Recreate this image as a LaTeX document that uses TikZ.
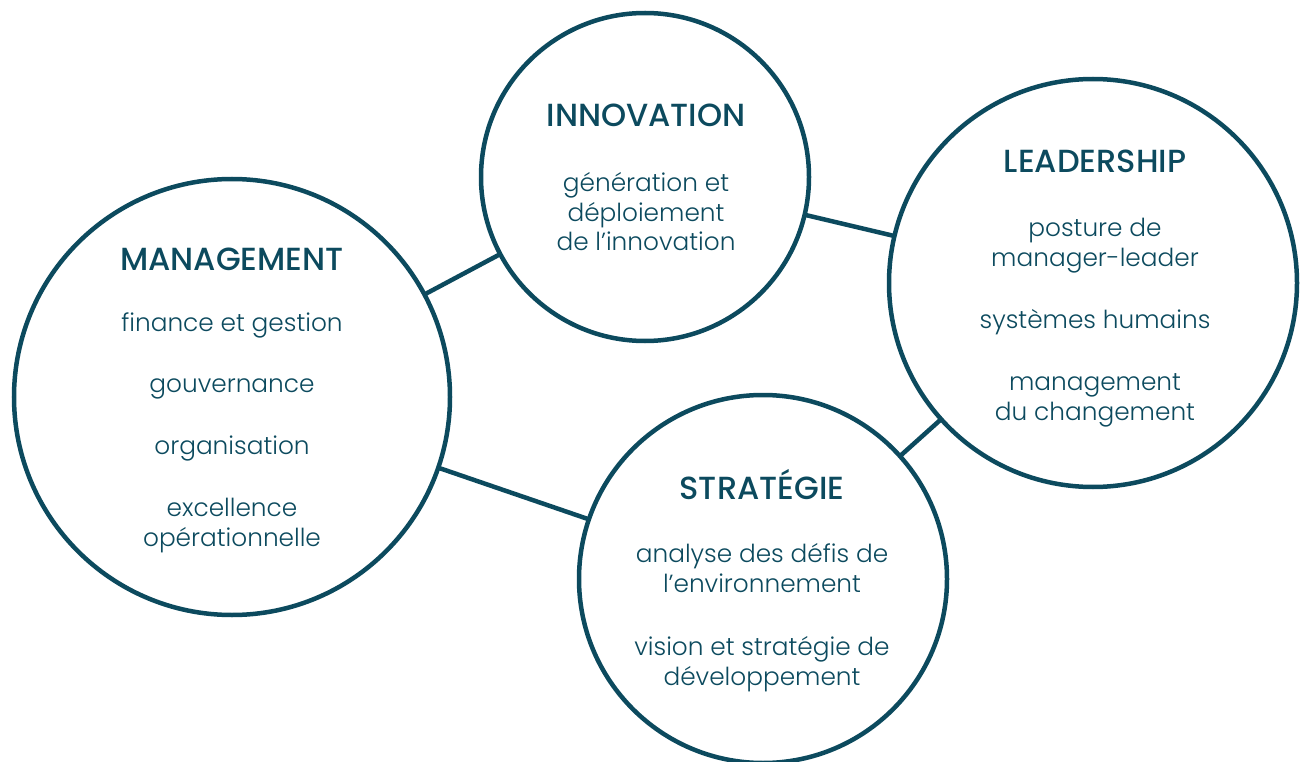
\documentclass[tikz,border=0pt]{standalone}
\usepackage{fontspec}
\setmainfont{Poppins}[UprightFont=*-Light,BoldFont=*-Medium]
\definecolor{teal}{HTML}{0C4A5E}
\begin{document}
\begin{tikzpicture}[x=1pt,y=-1pt,
  circ/.style={circle,draw=teal,line width=4.5pt,inner sep=0pt,outer sep=0pt},
  conn/.style={draw=teal,line width=4.5pt},
  title/.style={anchor=base,text=teal,inner sep=0pt,font=\bfseries\fontsize{32}{36}\selectfont},
  body/.style={anchor=base,text=teal,inner sep=0pt,font=\fontsize{24.8}{30}\selectfont}]
\useasboundingbox (0,0) rectangle (1307,762);
\node[circ,minimum size=436pt] (man) at (232,397) {};
\node[circ,minimum size=328pt] (inn) at (645,177) {};
\node[circ,minimum size=408pt] (lea) at (1093,283) {};
\node[circ,minimum size=368pt] (str) at (763,579) {};
\draw[conn] (man) -- (inn);
\draw[conn] (inn) -- (lea);
\draw[conn] (lea) -- (str);
\draw[conn] (man) -- (str);
% MANAGEMENT
\node[title] (mt) at (232,270) {MANAGEMENT};
\node[body] (m1) at (232,331) {finance et gestion};
\node[body] (m2) at (232,392) {gouvernance};
\node[body] (m3) at (232,454) {organisation};
\node[body] (m4) at (232,516) {excellence};
\node[body] (m5) at (232,546) {opérationnelle};
% INNOVATION
\node[title] (it) at (646,127) {INNOVATION};
\node[body] (i1) at (646,192) {génération et};
\node[body] (i2) at (646,222) {déploiement};
\node[body] (i3) at (646,251) {de l’innovation};
% LEADERSHIP
\node[title] (lt) at (1095,173) {LEADERSHIP};
\node[body] (l1) at (1095,237) {posture de};
\node[body] (l2) at (1095,267) {manager-leader};
\node[body] (l3) at (1095,328) {systèmes humains};
\node[body] (l4) at (1095,390) {management};
\node[body] (l5) at (1095,420) {du changement};
% STRATEGIE
\node[title] (st) at (762,499) {STRATÉGIE};
\node[body] (s1) at (762,562) {analyse des défis de};
\node[body] (s2) at (762,592) {l’environnement};
\node[body] (s3) at (762,655) {vision et stratégie de};
\node[body] (s4) at (762,685) {développement};
\end{tikzpicture}
\end{document}
